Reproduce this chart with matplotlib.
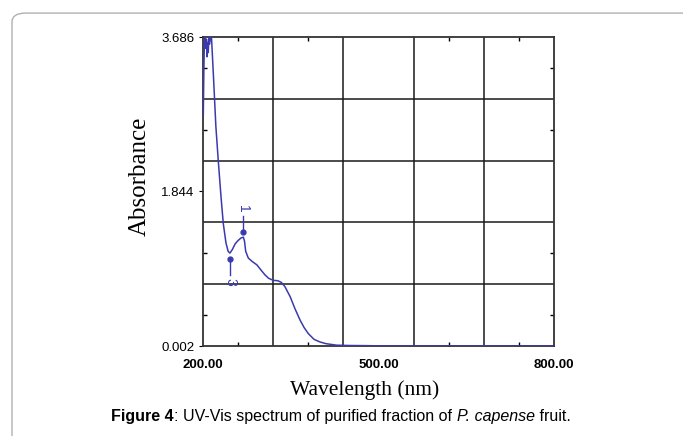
import numpy as np
import matplotlib
matplotlib.use('Agg')
import matplotlib.pyplot as plt
from matplotlib.patches import FancyBboxPatch

# spectrum (nm, absorbance)
wavelength = [200.5, 201.5, 202.5, 204, 205, 206, 207, 208, 209, 210, 211, 212.5,
              214.5, 218, 222, 226, 230.8, 234.7, 239.3, 243, 246, 250, 255, 260,
              265, 269, 271, 273, 277.5, 284, 292, 300, 306, 312, 320, 328, 334,
              340, 349, 357, 366, 373, 380, 390, 400, 410, 428, 450, 480, 500,
              600, 800]
absorbance = [2.75, 3.30, 3.68, 3.68, 3.55, 3.66, 3.45, 3.62, 3.50, 3.68, 3.60, 3.66,
              3.686, 3.20, 2.62, 2.22, 1.78, 1.46, 1.23, 1.13, 1.11, 1.15, 1.22, 1.26,
              1.29, 1.30, 1.25, 1.13, 1.05, 1.01, 0.97, 0.90, 0.85, 0.81, 0.785, 0.78, 0.76,
              0.71, 0.59, 0.45, 0.31, 0.22, 0.15, 0.08, 0.05, 0.03, 0.012, 0.008, 0.006, 0.004,
              0.003, 0.002]

# picked peaks
peak_names = ['1', '3']
peak_wl = [269.2, 246.8]
peak_abs = [1.365, 1.04]

y_min, y_max = 0.002, 3.686
x_min, x_max = 200, 800
x_labels = [200, 500, 800]
y_labels = [0.002, 1.844, 3.686]

blue = '#3a3aae'

fig = plt.figure(figsize=(6.83, 4.36), dpi=100)

# rounded frame around figure
frame = FancyBboxPatch((12/683, -0.1), 1.1, 0.97 + 0.1, transform=fig.transFigure,
                       boxstyle='round,pad=0,rounding_size=0.02', fill=False,
                       edgecolor='#b0b0b0', linewidth=1.0)
fig.patches.append(frame)

ax = fig.add_axes([203/683, 1 - 346/436, 351/683, 309/436])
ax.plot(wavelength, absorbance, color=blue, linewidth=1.1, zorder=3)
ax.set_xlim(x_min, x_max)
ax.set_ylim(y_min, y_max)

# grid, 5 x 5 cells
x_step = (x_max - x_min) / 5
y_step = (y_max - y_min) / 5
for i in range(1, 5):
    ax.axvline(x_min + i * x_step, color='#1a1a1a', linewidth=1.1, zorder=1)
    ax.axhline(y_min + i * y_step, color='#1a1a1a', linewidth=1.1, zorder=1)

ax.set_xticks(x_labels)
ax.set_xticklabels(['%.2f' % v for v in x_labels], fontsize=9.5, fontweight='bold',
                   family='Liberation Sans')
ax.set_yticks(y_labels)
ax.set_yticklabels(['%.3f' % v for v in y_labels], fontsize=9.5, family='Liberation Sans')
ax.set_xticks([x_min + (i + 0.5) * x_step for i in range(5)], minor=True)
ax.set_yticks([y_min + (i + 0.5) * y_step for i in range(5)], minor=True)
ax.tick_params(axis='x', which='major', length=0, pad=9)
ax.tick_params(axis='y', which='major', length=3, direction='out', pad=3)
ax.tick_params(which='minor', direction='in', length=3, width=1, top=True, right=True)
for s in ax.spines.values():
    s.set_color('#333333')
    s.set_linewidth(1.3)

# peak markers with stems and rotated numbers
for name, w, a in zip(peak_names, peak_wl, peak_abs):
    up = 1 if name == '1' else -1
    ax.plot([w, w], [a, a + up * 0.19], color=blue, linewidth=1.0, zorder=4)
    ax.plot(w, a, 'o', color=blue, markersize=3.5, zorder=5)
    ax.text(w, a + up * 0.27, name, color=blue, fontsize=10, rotation=270,
            ha='center', va='center', family='Liberation Sans')

fig.text(140/683, 1 - 176/436, 'Absorbance', rotation=90, ha='center', va='center',
         fontsize=18, family='Liberation Serif')
fig.text(365/683, 1 - 390/436, 'Wavelength (nm)', ha='center', va='center',
         fontsize=15.5, family='Liberation Serif')

# caption with mixed styles, laid out piece by piece
pieces = [('Figure 4', 'bold', 'normal'),
          (': UV-Vis spectrum of purified fraction of ', 'normal', 'normal'),
          ('P. capense', 'normal', 'italic'),
          (' fruit.', 'normal', 'normal')]
renderer = fig.canvas.get_renderer()
texts = []
x = 0
for txt, weight, style in pieces:
    t = fig.text(x, 1 - 416/436, txt, fontsize=11.5, fontweight=weight, fontstyle=style,
                 family='Liberation Sans', ha='left', va='center')
    bb = t.get_window_extent(renderer)
    x += bb.width / fig.bbox.width
    texts.append(t)
shift = 341/683 - x / 2
for t in texts:
    px, py = t.get_position()
    t.set_position((px + shift, py))

fig.savefig('out.png', dpi=100)
